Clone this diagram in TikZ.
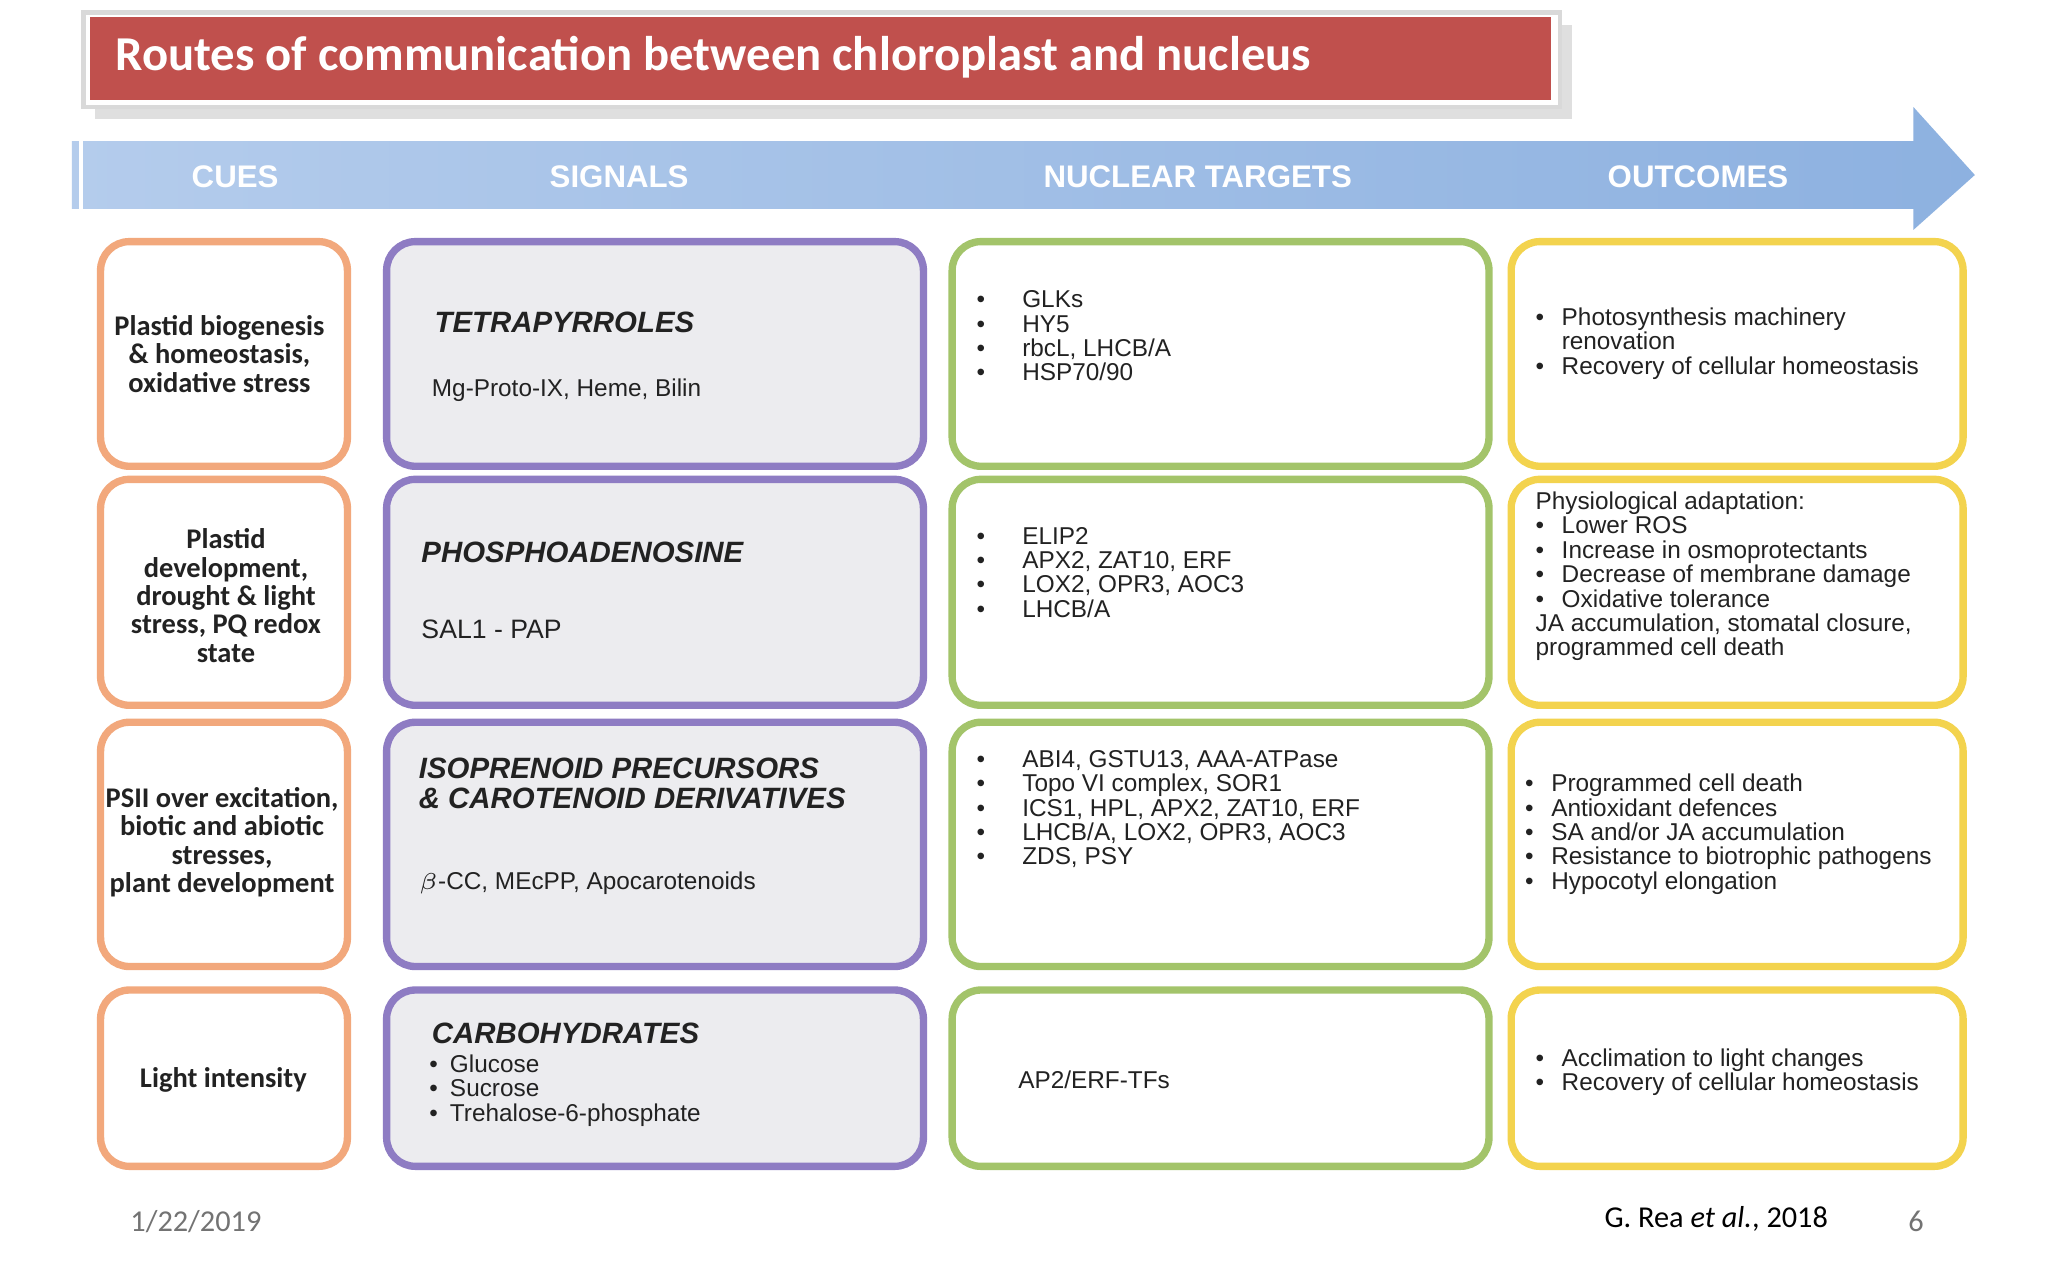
\documentclass[tikz,border=0pt]{standalone}
\usepackage{fontspec}
\setmainfont{Liberation Sans}
\newfontfamily\calfont{Carlito}
\usetikzlibrary{shadows}
\definecolor{tred}{HTML}{C0504D}
\definecolor{bandA}{HTML}{B4CCEC}
\definecolor{bandB}{HTML}{8DB1E0}
\definecolor{cOr}{HTML}{F2A87C}
\definecolor{cPu}{HTML}{8E7CC3}
\definecolor{cGr}{HTML}{A3C46A}
\definecolor{cYe}{HTML}{F3D34E}
\definecolor{sgfill}{HTML}{ECECEF}
\definecolor{tx}{HTML}{222222}
\newcommand{\fs}[1]{\fontsize{#1}{#1*1.3}\selectfont}
\begin{document}
\begin{tikzpicture}[x=0.01cm,y=-0.01cm,
 box/.style={draw=#1,line width=1.6pt,rounded corners=0.22cm},
 txt/.style={text=tx,font=\fs{5.3pt},align=left,inner sep=0pt},
 cue/.style={text=tx,font=\calfont\bfseries\fs{6.2pt},align=center,inner sep=0pt},
 hd/.style={text=tx,font=\bfseries\itshape\fs{6.4pt},align=left,inner sep=0pt},
 lab/.style={text=white,font=\bfseries\fs{6.8pt}}]
\useasboundingbox (0,0) rectangle (1568,980);
\fill[white] (0,0) rectangle (1568,980);
% title
\node[draw=black!15,line width=1pt,fill=white,minimum width=11.3cm,minimum height=0.72cm,anchor=north west,inner sep=0pt,drop shadow={opacity=0.25}] (tframe) at (62,8) {};
\node[fill=tred,minimum width=11.18cm,minimum height=0.64cm,anchor=north west,inner sep=0pt] (title) at (68,12) {};
\node[text=white,font=\calfont\bfseries\fs{10.6pt},anchor=west] (ttext) at (76,44) {Routes of communication between chloroplast and nucleus};
% arrow band
\shade[left color=bandA,right color=bandB] (55,108) -- (1465,108) -- (1465,82) -- (1512,134) -- (1465,176) -- (1465,160) -- (55,160) -- cycle;
\draw[white,line width=1pt] (62,108) -- (62,160);
\node[lab] (l1) at (180,135) {CUES};
\node[lab] (l2) at (474,135) {SIGNALS};
\node[lab] (l3) at (917,135) {NUCLEAR TARGETS};
\node[lab] (l4) at (1300,135) {OUTCOMES};
% boxes
\foreach \a/\b [count=\i] in {185/357,367/540,553/740,758/893}{
 \draw[box=cOr,fill=white] (77,\a) rectangle (266,\b);
 \draw[box=cPu,fill=sgfill] (296,\a) rectangle (707,\b);
 \draw[box=cGr,fill=white] (729,\a) rectangle (1140,\b);
 \draw[box=cYe,fill=white] (1157,\a) rectangle (1503,\b);
}
% cues
\node[cue] (c1) at (168,271) {Plastid biogenesis\\\& homeostasis,\\oxidative stress};
\node[cue] (c2) at (173,456) {Plastid\\development,\\drought \& light\\stress, PQ redox\\state};
\node[cue] (c3) at (170,645) {PSII over excitation,\\biotic and abiotic\\stresses,\\plant development};
\node[cue] (c4) at (171,827) {Light intensity};
% signals
\node[hd,anchor=west] (s1h) at (332,247) {TETRAPYRROLES};
\node[txt,anchor=west] (s1) at (330,299) {Mg-Proto-IX, Heme, Bilin};
\node[hd,anchor=west] (s2h) at (322,423) {PHOSPHOADENOSINE};
\node[txt,anchor=west,font=\fs{5.8pt}] (s2) at (322,482) {SAL1 - PAP};
\node[hd,anchor=north west] (s3h) at (320,580) {ISOPRENOID PRECURSORS\\\& CAROTENOID DERIVATIVES};
\node[txt,anchor=west] (s3) at (320,676) {$\beta$-CC, MEcPP, Apocarotenoids};
\node[hd,anchor=west] (s4h) at (330,791) {CARBOHYDRATES};
\node[txt,anchor=north west] (s4) at (328,807) {\textbullet\enspace Glucose\\\textbullet\enspace Sucrose\\\textbullet\enspace Trehalose-6-phosphate};
% targets
\def\bl{\makebox[0.35cm][l]{\textbullet}}
\node[txt,anchor=north west] (t1) at (747,222) {\bl GLKs\\\bl HY5\\\bl rbcL, LHCB/A\\\bl HSP70/90};
\node[txt,anchor=north west] (t2) at (747,403) {\bl ELIP2\\\bl APX2, ZAT10, ERF\\\bl LOX2, OPR3, AOC3\\\bl LHCB/A};
\node[txt,anchor=north west] (t3) at (747,574) {\bl ABI4, GSTU13, AAA-ATPase\\\bl Topo VI complex, SOR1\\\bl ICS1, HPL, APX2, ZAT10, ERF\\\bl LHCB/A, LOX2, OPR3, AOC3\\\bl ZDS, PSY};
\node[txt,anchor=west] (t4) at (779,827) {AP2/ERF-TFs};
% outcomes
\def\sb{\makebox[0.2cm][l]{\textbullet}}
\node[txt,anchor=north west] (o1) at (1175,235) {\sb Photosynthesis machinery\\\hspace{0.2cm}renovation\\\sb Recovery of cellular homeostasis};
\node[txt,anchor=north west] (o2) at (1175,376) {Physiological adaptation:\\\sb Lower ROS\\\sb Increase in osmoprotectants\\\sb Decrease of membrane damage\\\sb Oxidative tolerance\\JA accumulation, stomatal closure,\\programmed cell death};
\node[txt,anchor=north west] (o3) at (1167,592) {\makebox[0.2cm][l]{\textbullet}Programmed cell death\\\makebox[0.2cm][l]{\textbullet}Antioxidant defences\\\makebox[0.2cm][l]{\textbullet}SA and/or JA accumulation\\\makebox[0.2cm][l]{\textbullet}Resistance to biotrophic pathogens\\\makebox[0.2cm][l]{\textbullet}Hypocotyl elongation};
\node[txt,anchor=north west] (o4) at (1175,802) {\sb Acclimation to light changes\\\sb Recovery of cellular homeostasis};
% footer
\node[text=black!55,font=\calfont\fs{6.6pt}] (date) at (150,935) {1/22/2019};
\node[text=black,font=\calfont\fs{6.6pt}] (cite) at (1314,933) {G. Rea \textit{et al.}, 2018};
\node[text=black!55,font=\calfont\fs{6.6pt}] (pg) at (1467,935) {6};
\end{tikzpicture}
\end{document}
